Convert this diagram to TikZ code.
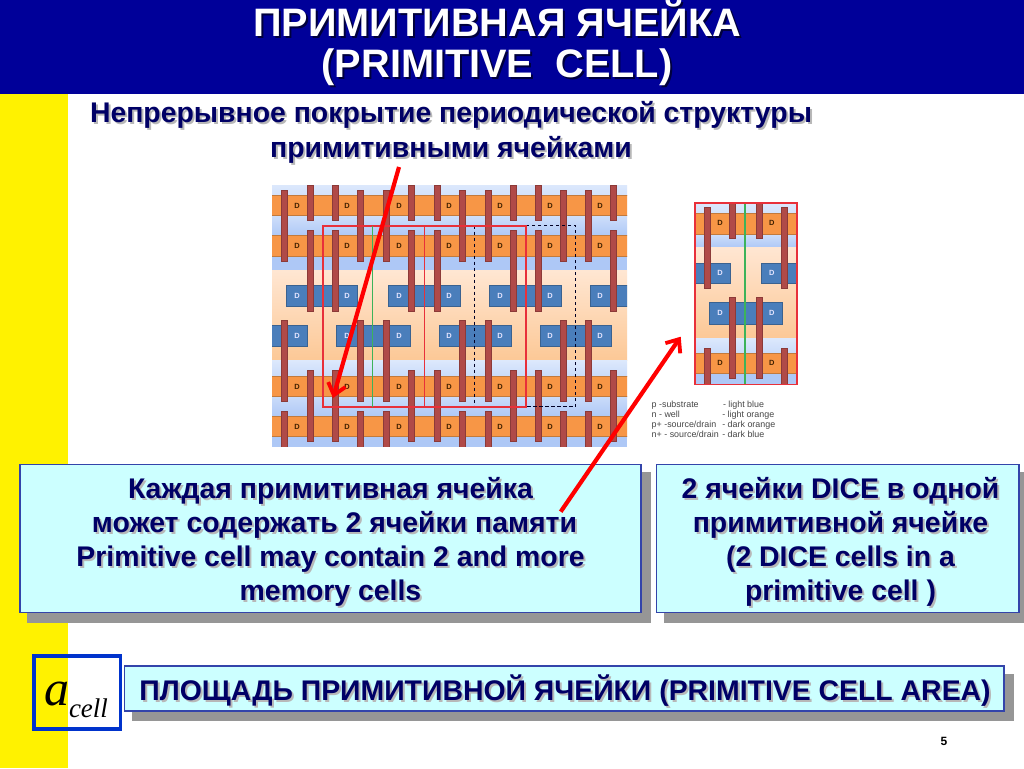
\documentclass[tikz,border=0pt]{standalone}
\usepackage{fontspec}
\setmainfont{Liberation Sans}
\newfontfamily\timesfont{Liberation Serif}
\usetikzlibrary{arrows.meta}
\definecolor{bandblue}{HTML}{000099}
\definecolor{navytext}{HTML}{000066}
\definecolor{boxfill}{HTML}{CCFFFF}
\definecolor{boxedge}{HTML}{3344AA}
\definecolor{shadowgrey}{HTML}{969696}
\definecolor{dorange}{HTML}{F79646}
\definecolor{dorangeedge}{HTML}{C27A3C}
\definecolor{dblue}{HTML}{4A7EBB}
\definecolor{dblueedge}{HTML}{3A6290}
\definecolor{gatered}{HTML}{B04A48}
\definecolor{gateedge}{HTML}{8C3A38}
\definecolor{cellred}{HTML}{E8303A}
\definecolor{cellgreen}{HTML}{3CB35A}
\definecolor{lbluetop}{HTML}{DCE8FC}
\definecolor{lbluebot}{HTML}{AEC8F6}
\definecolor{lorangetop}{HTML}{FFE6D2}
\definecolor{lorangebot}{HTML}{FCC896}
\definecolor{framecol}{HTML}{0033CC}
\tikzset{
  every node/.style={inner sep=0pt,outer sep=0pt},
  textbox/.style={fill=boxfill,draw=boxedge,line width=1.3pt},
  boxshade/.style={fill=shadowgrey},
  sfd/.style={font=\fontsize{7.5}{8}\selectfont\bfseries,text=black!75!orange},
  dfd/.style={font=\fontsize{7.5}{8}\selectfont\bfseries,text=blue!10!white},
  gatebar/.style={fill=gatered,draw=gateedge,line width=0.7pt},
  bigarrow/.style={draw=red,line width=4.2pt,-{Straight Barb[length=11pt,width=18pt,line width=3.8pt]}},
  legendtext/.style={font=\fontsize{8.9}{10}\selectfont,text=black!72,anchor=base west},
  mainlabel/.style={font=\fontsize{28.4}{34}\selectfont\bfseries,align=center},
  sublabel/.style={font=\fontsize{28.4}{35}\selectfont\bfseries,align=center},
  titlelabel/.style={font=\fontsize{39.7}{41}\selectfont\bfseries,align=center}
}
\newcommand{\gbar}[3]{\draw[gatebar] (#1-3,#2) rectangle (#1+3,#3);}
\begin{document}
\begin{tikzpicture}[x=1pt,y=-1pt]
\useasboundingbox (0,0) rectangle (1024,768);
\fill[white] (0,0) rectangle (1024,768);
\fill[yellow] (0,94) rectangle (68,768);
\fill[bandblue] (0,0) rectangle (1024,94);

% title
\node[titlelabel,text=black!60!bandblue] at (499,45) {ПРИМИТИВНАЯ ЯЧЕЙКА\\(PRIMITIVE~~CELL)};
\node[titlelabel,text=white] (title) at (497,43) {ПРИМИТИВНАЯ ЯЧЕЙКА\\(PRIMITIVE~~CELL)};
% subtitle
\node[sublabel,text=black!28] at (453,134) {Непрерывное покрытие периодической структуры\\примитивными ячейками};
\node[sublabel,text=navytext] (subtitle) at (451,132) {Непрерывное покрытие периодической структуры\\примитивными ячейками};

% ---- left layout image
\begin{scope}
\clip (272,185) rectangle (627,446.5);
\fill[top color=lbluetop,bottom color=lbluetop!80!lbluebot] (272,185) rectangle (627,195);
\fill[top color=lbluetop!70!lbluebot,bottom color=lbluebot] (272,215.7) rectangle (627,235.7);
\fill[lbluebot] (272,256.7) rectangle (627,270.7);
\fill[top color=lorangetop,bottom color=lorangebot] (272,270.7) rectangle (627,360.7);
\fill[top color=lbluetop,bottom color=lbluetop!60!lbluebot] (272,360.7) rectangle (627,376);
\fill[top color=lbluetop!60!lbluebot,bottom color=lbluebot] (272,396.7) rectangle (627,416.7);
\fill[lbluebot] (272,436.7) rectangle (627,446.5);
\foreach \a/\b in {195/215.7,235.7/256.7,376/396.7,416.7/436.7}
  \draw[fill=dorange,draw=dorangeedge,line width=0.6pt] (268,\a) rectangle (631,\b);
\foreach \a/\b in {286.3/357.7,388.7/460,489.7/561,590/632}
  \draw[fill=dblue,draw=dblueedge,line width=0.6pt] (\a,285.7) rectangle (\b,306);
\foreach \a/\b in {268/307.7,336.7/410,439/511,540/611.7}
  \draw[fill=dblue,draw=dblueedge,line width=0.6pt] (\a,325.7) rectangle (\b,346.7);
\foreach \x in {297,347,399,449,500,550,600} {
  \node[sfd] at (\x,206) {D};
  \node[sfd] at (\x,246) {D};
  \node[dfd] at (\x,296) {D};
  \node[dfd] at (\x,336) {D};
  \node[sfd] at (\x,387) {D};
  \node[sfd] at (\x,427) {D};
}
\foreach \x in {284.5,360,386.5,462,488,563,588} {
  \gbar{\x}{190}{261}
  \gbar{\x}{320.7}{401.7}
  \gbar{\x}{411.7}{450}
}
\foreach \x in {310,335,411.5,437,513,538,613} {
  \gbar{\x}{185.5}{220.7}
  \gbar{\x}{230}{311}
  \gbar{\x}{370.7}{441.7}
}
\end{scope}
\draw[black!85!blue,line width=1.5pt,dash pattern=on 3.5pt off 2.5pt] (474.3,225.7) rectangle (575.7,406.7);
\draw[cellred,line width=1.6pt] (322.7,225.7) rectangle (424.3,406.7);
\draw[cellred,line width=1.6pt] (424.3,225.7) rectangle (525.7,406.7);
\draw[cellgreen,line width=1.6pt] (372.3,225.7) -- (372.3,406.7);

% ---- right layout image
\begin{scope}
\clip (695,202.7) rectangle (796.7,384.3);
\fill[top color=lbluetop,bottom color=lbluetop!80!lbluebot] (695,202.7) rectangle (796.7,213.3);
\fill[top color=lbluetop!70!lbluebot,bottom color=lbluebot] (695,234) rectangle (796.7,247.7);
\fill[top color=lorangetop,bottom color=lorangebot] (695,247.7) rectangle (796.7,338.3);
\fill[top color=lbluetop,bottom color=lbluetop!60!lbluebot] (695,338.3) rectangle (796.7,353.3);
\fill[lbluebot] (695,373.3) rectangle (796.7,384.3);
\foreach \a/\b in {213.3/234,353.3/373.3}
  \draw[fill=dorange,draw=dorangeedge,line width=0.6pt] (690,\a) rectangle (800,\b);
\draw[fill=dblue,draw=dblueedge,line width=0.6pt] (690,263) rectangle (730.7,283.3);
\draw[fill=dblue,draw=dblueedge,line width=0.6pt] (761,263) rectangle (800,283.3);
\draw[fill=dblue,draw=dblueedge,line width=0.6pt] (709.3,302.7) rectangle (782.3,324);
\foreach \x in {720,771.7} {
  \node[sfd] at (\x,223.3) {D};
  \node[dfd] at (\x,273.3) {D};
  \node[dfd] at (\x,313.3) {D};
  \node[sfd] at (\x,363.3) {D};
}
\foreach \x in {707.3,784.3} {
  \gbar{\x}{207.7}{288.3}
  \gbar{\x}{348.3}{390}
}
\foreach \x in {732.7,759} {
  \gbar{\x}{198}{238.3}
  \gbar{\x}{297.7}{378.3}
}
\end{scope}
\draw[cellgreen,line width=1.6pt] (745,202.7) -- (745,384.3);
\draw[cellred,line width=1.6pt] (695,202.7) rectangle (796.7,384.3);

% legend
\node[legendtext] (leg1a) at (651.7,407) {p -substrate};
\node[legendtext] (leg2a) at (651.7,417) {n - well};
\node[legendtext] (leg3a) at (651.7,427) {p+ -source/drain};
\node[legendtext] (leg4a) at (651.7,437) {n+ - source/drain};
\node[legendtext] (leg1b) at (723,407) {- light blue};
\node[legendtext] (leg2b) at (722.3,417) {- light orange};
\node[legendtext] (leg3b) at (722.3,427) {- dark orange};
\node[legendtext] (leg4b) at (722.3,437) {- dark blue};

% text boxes
\fill[boxshade] (27,472) rectangle (651,622.7);
\draw[textbox] (20,464.3) rectangle (641,612.7);
\fill[boxshade] (664,472) rectangle (1024,622.7);
\draw[textbox] (656.7,464.3) rectangle (1019,612.7);
\fill[boxshade] (132,674) rectangle (1014,721);
\draw[textbox] (124.7,666) rectangle (1004,711);

\node[mainlabel,text=black!28] at (332.5,543.5) {Каждая примитивная ячейка\\\hspace*{8pt}может содержать 2 ячейки памяти\\Primitive cell may contain 2 and more\\memory cells};
\node[mainlabel,text=navytext] (cellsleft) at (330.5,541.5) {Каждая примитивная ячейка\\\hspace*{8pt}может содержать 2 ячейки памяти\\Primitive cell may contain 2 and more\\memory cells};
\node[mainlabel,text=black!28] at (842.5,543.5) {2 ячейки DICE в одной\\примитивной ячейке\\(2 DICE cells in a\\primitive cell )};
\node[mainlabel,text=navytext] (cellsright) at (840.5,541.5) {2 ячейки DICE в одной\\примитивной ячейке\\(2 DICE cells in a\\primitive cell )};
\node[mainlabel,text=black!28] at (567,692.5) {ПЛОЩАДЬ ПРИМИТИВНОЙ ЯЧЕЙКИ (PRIMITIVE CELL AREA)};
\node[mainlabel,text=navytext] (areatext) at (565,690.5) {ПЛОЩАДЬ ПРИМИТИВНОЙ ЯЧЕЙКИ (PRIMITIVE CELL AREA)};

% a_cell
\draw[draw=framecol,line width=3.6pt] (33.7,655.7) rectangle (120.3,728.7);
\node[anchor=base west,font=\timesfont\itshape] (acell) at (44,705) {{\fontsize{50}{50}\selectfont a}\raisebox{-12pt}{\fontsize{27}{27}\selectfont cell}};

% page number
\node[font=\fontsize{12}{14}\selectfont\bfseries] (pagenum) at (944,741) {5};

% arrows
\coordinate (a1s) at (399,167);
\coordinate (a1e) at (333,398);
\coordinate (a2s) at (560.7,511.7);
\coordinate (a2e) at (680.7,336.7);
\draw[bigarrow] (a1s) -- (a1e);
\draw[bigarrow] (a2s) -- (a2e);
\end{tikzpicture}
\end{document}
